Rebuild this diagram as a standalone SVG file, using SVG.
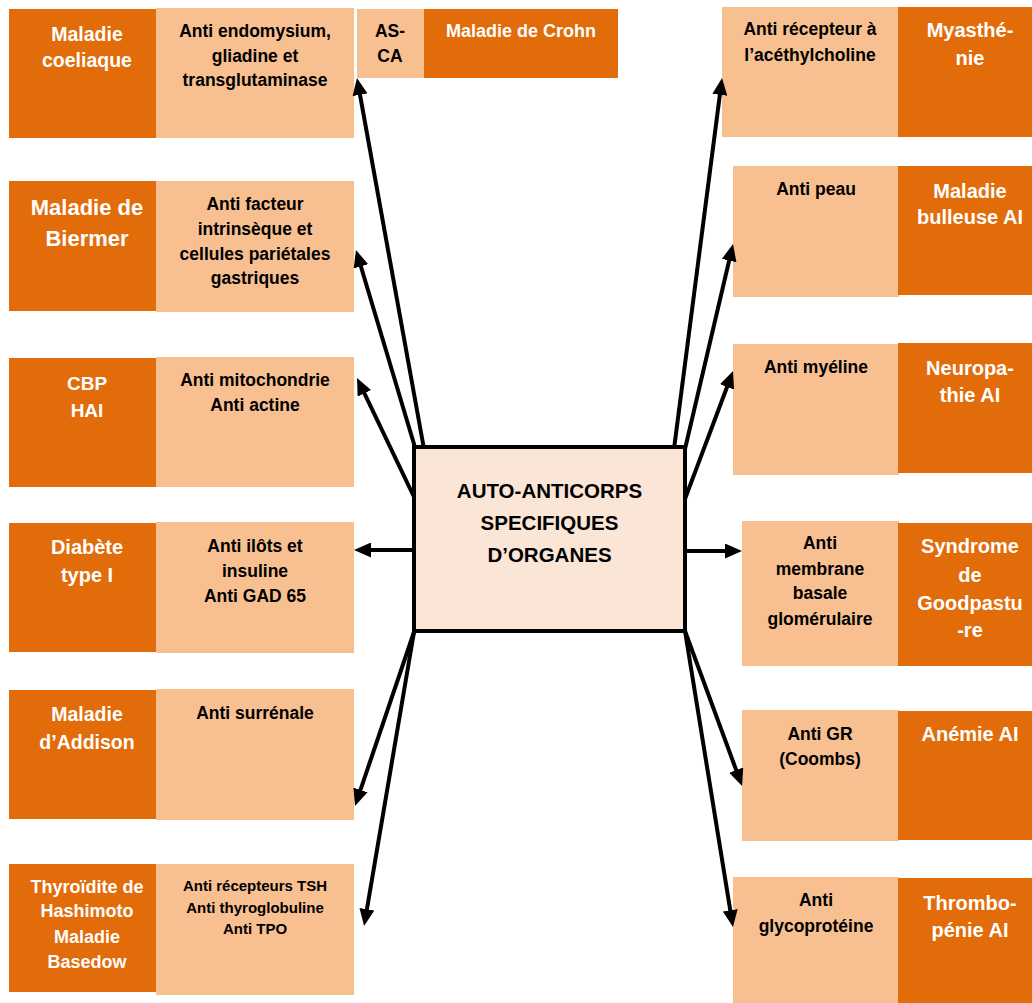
<svg xmlns="http://www.w3.org/2000/svg" width="1032" height="1003" viewBox="0 0 1032 1003">
<style>
  text { font-family: "Liberation Sans", Arial, sans-serif; font-weight: bold; text-anchor: middle; }
  .dk { fill: #E36C0A; }
  .lt { fill: #F8BF90; }
  .w { fill: #FFFFFF; font-size: 20px; }
  .b { fill: #000000; font-size: 17.5px; }
  .conn line { stroke: #000; stroke-width: 4; marker-end: url(#ah); }
</style>
<defs>
  <marker id="ah" markerUnits="userSpaceOnUse" markerWidth="17" markerHeight="15" refX="9" refY="7.5" orient="auto" viewBox="0 0 17 15">
    <path d="M0,0 L17,7.5 L0,15 z" fill="#000"/>
  </marker>
</defs>
<rect width="1032" height="1003" fill="#FFFFFF"/>

<!-- Left column -->
<g id="n-coeliaque">
  <rect class="dk" x="9" y="9" width="148" height="129"/>
  <rect class="lt" x="156" y="8" width="198" height="130"/>
  <text class="w" x="87" y="41" style="font-size:19.5px">Maladie</text>
  <text class="w" x="87" y="67" style="font-size:19.5px">coeliaque</text>
  <text class="b" x="255" y="37">Anti endomysium,</text>
  <text class="b" x="255" y="62">gliadine et</text>
  <text class="b" x="255" y="86">transglutaminase</text>
</g>
<g id="n-crohn">
  <rect class="lt" x="357" y="9" width="68" height="69"/>
  <rect class="dk" x="424" y="9" width="194" height="69"/>
  <text class="b" x="390" y="37">AS-</text>
  <text class="b" x="390" y="62">CA</text>
  <text class="w" x="521" y="37" style="font-size:18px">Maladie de Crohn</text>
</g>
<g id="n-biermer">
  <rect class="dk" x="9" y="181" width="148" height="130"/>
  <rect class="lt" x="156" y="181" width="198" height="131"/>
  <text class="w" x="87" y="215" style="font-size:22px">Maladie de</text>
  <text class="w" x="87" y="246" style="font-size:22px">Biermer</text>
  <text class="b" x="255" y="210">Anti facteur</text>
  <text class="b" x="255" y="235">intrinsèque et</text>
  <text class="b" x="255" y="260">cellules pariétales</text>
  <text class="b" x="255" y="284">gastriques</text>
</g>
<g id="n-cbp">
  <rect class="dk" x="9" y="358" width="148" height="129"/>
  <rect class="lt" x="156" y="357" width="198" height="130"/>
  <text class="w" x="87" y="390" style="font-size:19px">CBP</text>
  <text class="w" x="87" y="417" style="font-size:19px">HAI</text>
  <text class="b" x="255" y="386">Anti mitochondrie</text>
  <text class="b" x="255" y="411">Anti actine</text>
</g>
<g id="n-diabete">
  <rect class="dk" x="9" y="523" width="148" height="129"/>
  <rect class="lt" x="156" y="522" width="198" height="131"/>
  <text class="w" x="87" y="554">Diabète</text>
  <text class="w" x="87" y="582">type I</text>
  <text class="b" x="255" y="552">Anti ilôts et</text>
  <text class="b" x="255" y="577">insuline</text>
  <text class="b" x="255" y="602">Anti GAD 65</text>
</g>
<g id="n-addison">
  <rect class="dk" x="9" y="690" width="148" height="129"/>
  <rect class="lt" x="156" y="689" width="198" height="131"/>
  <text class="w" x="87" y="721" style="font-size:19.5px">Maladie</text>
  <text class="w" x="87" y="749" style="font-size:19.5px">d’Addison</text>
  <text class="b" x="255" y="719">Anti surrénale</text>
</g>
<g id="n-thyroide">
  <rect class="dk" x="9" y="864" width="148" height="128"/>
  <rect class="lt" x="156" y="864" width="198" height="131"/>
  <text class="w" x="87" y="893" style="font-size:18px">Thyroïdite de</text>
  <text class="w" x="87" y="917" style="font-size:18px">Hashimoto</text>
  <text class="w" x="87" y="943" style="font-size:18px">Maladie</text>
  <text class="w" x="87" y="968" style="font-size:18px">Basedow</text>
  <text class="b" x="255" y="891" style="font-size:15px">Anti récepteurs TSH</text>
  <text class="b" x="255" y="913" style="font-size:15px">Anti thyroglobuline</text>
  <text class="b" x="255" y="934" style="font-size:15px">Anti TPO</text>
</g>

<!-- Right column -->
<g id="n-myasthenie">
  <rect class="lt" x="722" y="7" width="177" height="130"/>
  <rect class="dk" x="898" y="7" width="134" height="130"/>
  <text class="b" x="810" y="35">Anti récepteur à</text>
  <text class="b" x="810" y="61">l’acéthylcholine</text>
  <text class="w" x="970" y="37">Myasthé-</text>
  <text class="w" x="970" y="65">nie</text>
</g>
<g id="n-bulleuse">
  <rect class="lt" x="733" y="166" width="166" height="131"/>
  <rect class="dk" x="898" y="166" width="134" height="129"/>
  <text class="b" x="816" y="195">Anti peau</text>
  <text class="w" x="970" y="198">Maladie</text>
  <text class="w" x="970" y="224">bulleuse AI</text>
</g>
<g id="n-neuropathie">
  <rect class="lt" x="733" y="344" width="166" height="131"/>
  <rect class="dk" x="898" y="343" width="134" height="130"/>
  <text class="b" x="816" y="373">Anti myéline</text>
  <text class="w" x="970" y="375">Neuropa-</text>
  <text class="w" x="970" y="402">thie AI</text>
</g>
<g id="n-goodpasture">
  <rect class="lt" x="742" y="521" width="157" height="145"/>
  <rect class="dk" x="898" y="523" width="134" height="143"/>
  <text class="b" x="820" y="549">Anti</text>
  <text class="b" x="820" y="575">membrane</text>
  <text class="b" x="820" y="599">basale</text>
  <text class="b" x="820" y="625">glomérulaire</text>
  <text class="w" x="970" y="553">Syndrome</text>
  <text class="w" x="970" y="582">de</text>
  <text class="w" x="970" y="610">Goodpastu</text>
  <text class="w" x="970" y="637">-re</text>
</g>
<g id="n-anemie">
  <rect class="lt" x="742" y="710" width="157" height="131"/>
  <rect class="dk" x="898" y="711" width="134" height="129"/>
  <text class="b" x="820" y="740">Anti GR</text>
  <text class="b" x="820" y="765">(Coombs)</text>
  <text class="w" x="970" y="741">Anémie AI</text>
</g>
<g id="n-thrombopenie">
  <rect class="lt" x="733" y="877" width="166" height="126"/>
  <rect class="dk" x="898" y="878" width="134" height="125"/>
  <text class="b" x="816" y="906">Anti</text>
  <text class="b" x="816" y="932">glycoprotéine</text>
  <text class="w" x="970" y="910">Thrombo-</text>
  <text class="w" x="970" y="937">pénie AI</text>
</g>

<!-- Connectors -->
<g id="connectors" class="conn">
  <line x1="424" y1="449" x2="358.4" y2="85.9"/>
  <line x1="417" y1="454" x2="358.3" y2="257.7"/>
  <line x1="415" y1="499" x2="360.5" y2="385.2"/>
  <line x1="414" y1="550" x2="362" y2="550"/>
  <line x1="414" y1="632" x2="357.6" y2="798.4"/>
  <line x1="414" y1="632" x2="365.4" y2="918.1"/>
  <line x1="674" y1="449" x2="721" y2="85.9"/>
  <line x1="685" y1="449" x2="731.2" y2="251.8"/>
  <line x1="685" y1="499" x2="730.2" y2="378.5"/>
  <line x1="686" y1="551" x2="734" y2="551"/>
  <line x1="685" y1="631" x2="739.3" y2="778.5"/>
  <line x1="685" y1="631" x2="731.7" y2="919.1"/>
</g>

<!-- Center -->
<g id="n-center">
  <rect x="414" y="447" width="271" height="184" fill="#FBE5D6" stroke="#000" stroke-width="4"/>
  <text class="b" x="549.5" y="498" style="font-size:20.5px">AUTO-ANTICORPS</text>
  <text class="b" x="549.5" y="530" style="font-size:20.5px">SPECIFIQUES</text>
  <text class="b" x="549.5" y="562" style="font-size:20.5px">D’ORGANES</text>
</g>
</svg>
